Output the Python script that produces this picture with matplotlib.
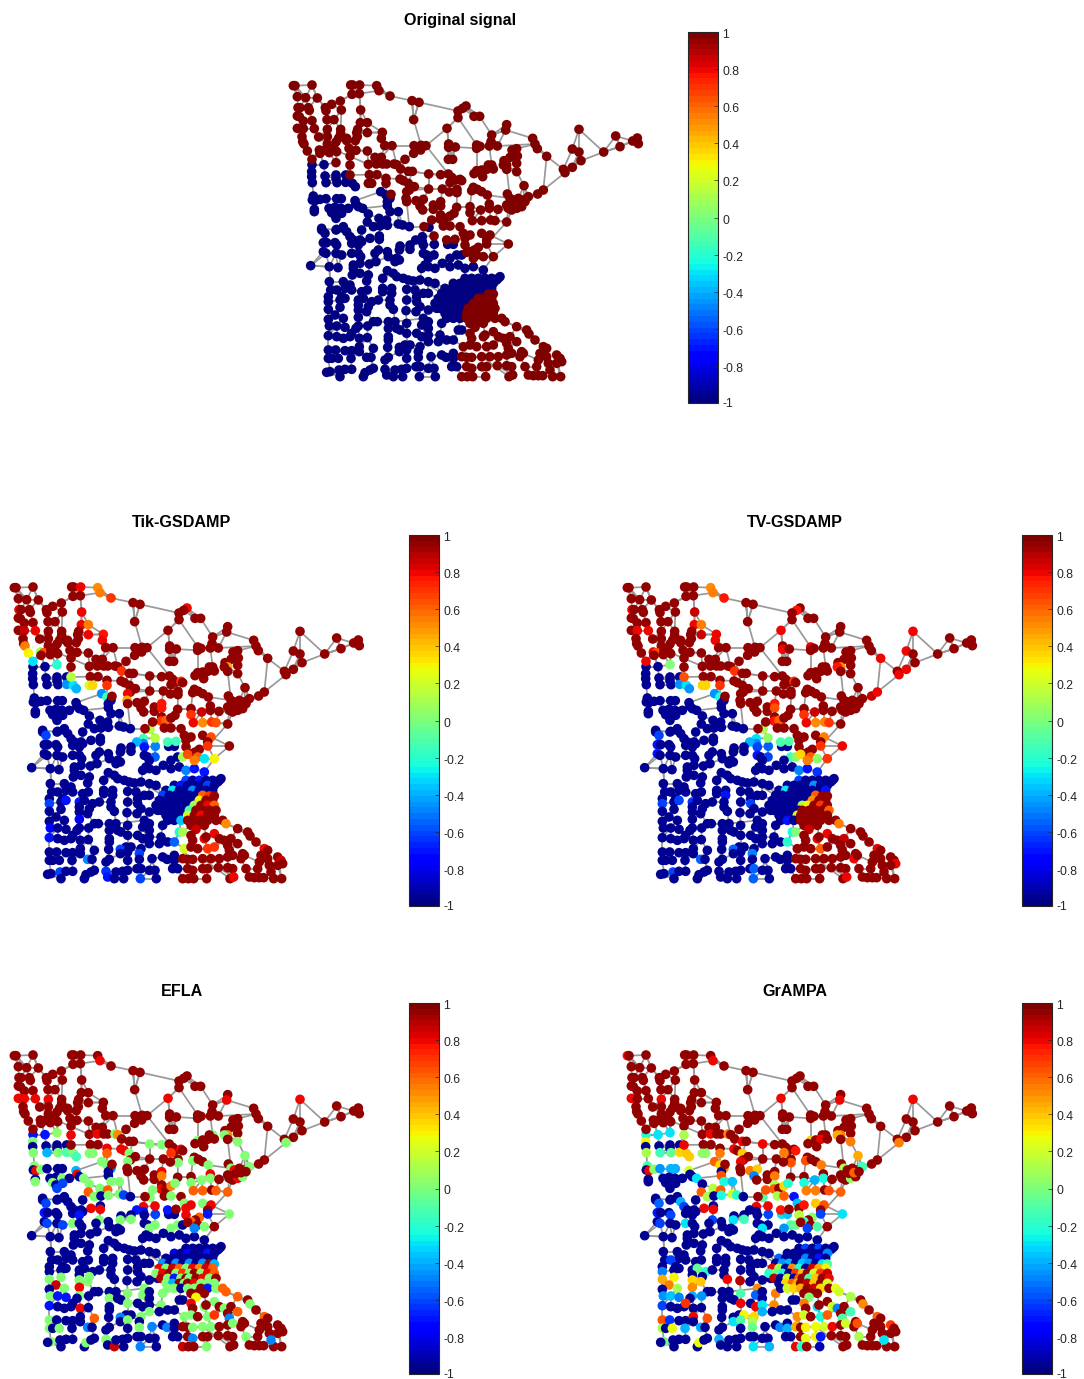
import numpy as np
import matplotlib
matplotlib.use("Agg")
import matplotlib.pyplot as plt
from matplotlib.cm import ScalarMappable
from matplotlib.colors import Normalize
from matplotlib.collections import LineCollection
from matplotlib.transforms import ScaledTranslation

plt.rcParams['font.family'] = ['Liberation Sans', 'DejaVu Sans']

# ---- graph nodes, in map grid units ------------------------------------
upper_red = [
 (40,47),(45,47),(96,45),(212,45),(218,45),(239,45),(290,47),(297,62),(216,73),(238,71),(330,78),
 (52,80),(77,83),(112,84),(181,93),(396,92),(417,97),(155,103),(54,113),(60,113),(85,113),(136,113),
 (558,108),(548,115),(534,123),(88,121),(184,120),(242,120),(138,122),(52,138),(58,140),(534,143),
 (582,139),(599,139),(70,153),(96,152),(141,149),(162,149),(401,149),(241,158),(262,158),
 (52,175),(70,176),(103,176),(142,178),(182,178),(233,178),(501,175),(680,164),(677,180),(897,178),
 (262,188),(307,187),(182,190),(230,188),(635,195),(66,200),(116,201),(142,200),(176,204),(200,205),
 (232,200),(304,205),(1007,198),(758,205),(68,215),(72,222),(142,222),(168,216),(200,212),(226,212),
 (633,215),(1072,204),(1058,213),(1075,221),(765,222),(314,227),(336,227),(402,227),(423,226),(438,227),
 (506,222),(506,232),(526,231),(590,225),(600,229),(590,235),(628,228),(652,228),(1020,230),(772,236),
 (82,243),(118,240),(128,242),(150,235),(165,240),(207,235),(228,241),(262,243),(422,240),(696,240),
 (710,236),(877,237),(897,246),(971,246),(120,250),(148,248),(170,245),(401,250),(800,259),(712,258),
 (96,268),(210,258),(285,262),(304,262),(375,268),(505,268),(518,268),(690,262),(672,272),(903,272),
 (168,278),(210,285),(265,283),(289,282),(308,282),(320,282),(342,282),(350,284),(635,285),(625,285),
 (680,285),(670,285),(710,280),(877,292),(362,297),(385,304),(397,304),(446,312),(482,314),(505,312),
 (590,302),(605,300),(620,298),(640,297),(582,311),(850,298),(855,308),(680,298),(710,305),(210,315),
 (268,314),(291,314),(318,325),(318,340),(360,327),(370,332),(385,340),(403,350),(388,360),(380,365),
 (446,357),(487,357),(531,358),(531,368),(508,366),(580,352),(575,362),(592,358),(605,365),(622,375),
 (265,340),(275,340),(682,372),(732,347),(515,322),(525,330),(540,328),(545,332),(510,338),(608,320),
 (333,373),(378,385),(380,395),(408,392),(430,388),(690,385),(700,390),(715,385),(730,390),(745,380),
 (773,372),(790,360),(420,408),(428,420),(460,405),(460,418),(482,395),(482,408),(530,412),(570,410),
 (570,428),(628,402),(628,415),(602,420),(654,418),(680,405),(685,415),(695,420),(710,415),(725,410),
 (705,400),(720,398),(735,395),(482,435),(480,447),(495,445),(510,438),(522,430),(577,452),(605,452),
 (632,450),(645,452),(680,456),(455,450),(432,470),(490,468),(510,468),(540,470),
]
upper_blue = [
 (96,284),(132,284),(95,305),(95,320),(135,318),(168,315),(168,325),(197,315),(97,338),(138,338),(171,338),
 (197,337),(217,340),(226,350),(302,365),(318,375),(330,385),(100,378),(97,390),(105,392),(120,388),
 (138,386),(170,386),(184,386),(225,392),(228,403),(322,395),(103,418),(103,425),(147,415),(165,412),
 (183,415),(205,415),(235,410),(248,415),(322,407),(155,428),(165,435),(185,430),(265,432),(330,425),
 (355,425),(168,445),(297,445),(320,450),(262,456),(280,470),(300,468),(322,466),(355,462),(368,465),
 (388,470),(447,472),(125,475),(170,478),(190,470),
]
lower_offset = (30, 450)
lower_red = [
 (432,48),(470,60),(495,58),(520,40),(525,55),(540,45),(575,40),(600,45),(590,60),(525,75),(565,82),
 (590,72),(655,72),(553,90),(540,95),(530,97),(560,105),(580,110),(610,110),(550,115),
 (595,222),(610,222),(565,235),(585,235),(605,235),(550,250),(570,250),(590,250),(610,250),
 (535,265),(555,265),(575,265),(595,265),(615,265),(530,280),(550,280),(570,280),(590,280),(610,280),
 (530,295),(550,295),(570,295),(590,295),(615,295),(635,295),(540,310),(560,310),(580,310),(645,305),
 (555,322),(540,340),(545,355),(580,350),(610,335),(625,350),(640,355),(660,350),(680,320),(710,330),
 (717,342),(735,360),(585,345),(520,380),(540,375),(560,380),(590,380),(610,375),(650,370),(655,385),
 (680,365),(695,395),(760,380),(770,385),(515,410),(530,412),(545,412),(575,410),(600,410),(625,410),
 (650,405),(665,400),(690,410),(700,400),(750,400),(770,410),(745,420),(800,405),(810,415),(815,425),
 (775,430),(800,430),(530,440),(545,445),(575,440),(590,440),(622,437),(650,437),(665,440),(705,440),
 (740,440),(515,470),(532,470),(548,470),(587,470),(657,470),(668,465),(715,465),(730,467),(745,467),
 (758,467),(788,470),(812,470),(780,450),
]
lower_blue = [
 (95,30),(105,40),(138,30),(160,25),(170,35),(215,30),(180,50),(190,60),(210,60),(240,55),(268,48),(268,58),
 (397,50),(397,65),(377,60),(100,68),(110,68),(135,68),(140,75),(185,70),(215,65),(205,75),(330,78),(360,75),
 (360,88),(328,90),(400,75),(433,73),(473,73),(490,73),(265,90),(255,100),(292,95),(100,95),(108,100),
 (138,100),(155,105),(185,100),(205,100),(212,110),(295,110),(320,115),(400,100),(410,105),(432,105),(415,115),
 (500,105),(515,105),(480,115),(62,137),(118,140),(144,143),(190,135),(210,130),(238,132),(258,125),(315,125),
 (328,120),(190,145),(405,135),(395,145),(415,140),(435,145),(457,130),(480,140),(505,135),(525,145),(550,140),
 (580,150),(187,165),(210,160),(235,165),(292,152),(310,160),(320,170),(340,175),(355,180),(370,183),(278,175),
 (230,183),(118,185),(160,185),(390,180),(415,185),(435,190),(630,170),(620,180),(180,195),(165,205),(122,210),
 (140,210),(185,210),(215,215),(232,210),(278,205),(305,205),(278,215),(350,208),(375,210),(400,220),(415,220),
 (305,220),(155,230),(115,230),(115,245),(150,240),(165,235),(205,240),(220,235),(245,245),(265,240),(300,240),
 (350,240),(380,230),(380,245),(205,255),(235,260),(300,255),(390,260),(115,268),(150,262),(205,270),(230,275),
 (310,268),(348,272),(378,275),(135,285),(160,295),(115,298),(205,292),(250,305),(262,305),(400,295),(415,270),
 (440,265),(118,318),(140,318),(165,322),(205,318),(198,325),(233,318),(295,305),(315,305),(350,310),(295,325),
 (320,325),(330,330),(395,315),(415,305),(415,325),(455,310),(505,330),(515,330),(115,347),(140,350),(160,355),
 (180,350),(185,340),(208,355),(232,353),(295,350),(295,360),(350,340),(380,340),(395,350),(415,345),(415,365),
 (450,345),(445,365),(470,360),(490,360),(345,375),(360,375),(115,390),(137,390),(165,392),(185,392),(208,380),
 (208,395),(250,385),(293,382),(328,382),(328,395),(350,390),(390,380),(385,395),(115,415),(125,415),(145,415),
 (183,415),(230,412),(243,412),(295,412),(285,420),(350,415),(385,412),(423,410),(455,405),(468,412),(490,400),
 (490,415),(120,455),(110,457),(147,450),(165,448),(185,448),(150,470),(220,470),(225,458),(240,450),(250,445),
 (285,448),(290,465),(310,470),(315,450),(335,448),(350,445),(338,470),(378,440),(390,440),(388,470),(415,445),
 (432,445),(436,470),(485,440),(500,440),
 (525,175),(545,175),(565,175),(585,175),(605,175),(625,175),(490,190),(510,190),(530,190),(550,190),(570,190),
 (590,190),(610,190),(465,205),(485,205),(505,205),(525,205),(545,205),(565,205),(585,205),(605,205),(455,220),
 (475,220),(495,220),(515,220),(535,220),(555,220),(575,220),(445,235),(465,235),(485,235),(505,235),(525,235),
 (545,235),(435,250),(455,250),(475,250),(495,250),(515,250),(535,250),(450,265),(470,265),(490,265),(510,265),
 (525,265),(465,280),(485,280),(505,280),(520,280),(470,295),(490,295),(510,295),
]

# long road links that a nearest-node rule would miss (grid units)
long_links = [
 ((45,47),(77,83)),((96,45),(112,84)),((112,84),(136,113)),((181,93),(216,73)),((238,71),(297,62)),
 ((297,62),(330,78)),((330,78),(396,92)),((417,97),(534,123)),((401,92),(401,149)),((401,149),(415,227)),
 ((239,71),(242,120)),((242,120),(241,158)),((184,120),(181,178)),((262,158),(307,187)),((262,188),(307,187)),
 ((534,143),(501,175)),((501,175),(438,227)),((501,175),(506,222)),((534,143),(590,225)),((534,123),(548,115)),
 ((599,139),(635,195)),((635,195),(630,215)),((635,195),(677,180)),((677,180),(758,205)),((897,178),(971,246)),
 ((971,246),(1020,230)),((1020,230),(1058,213)),((1007,198),(1020,230)),((971,246),(903,272)),((903,272),(855,298)),
 ((877,237),(850,298)),((897,246),(877,292)),((850,298),(800,259)),((800,259),(772,236)),((800,259),(790,360)),
 ((855,308),(790,360)),((790,360),(745,380)),((762,222),(710,236)),((758,225),(652,228)),((590,225),(590,302)),
 ((526,231),(590,232)),((438,227),(505,312)),((336,227),(402,227)),((314,227),(304,205)),((336,227),(350,284)),
 ((228,241),(262,243)),((210,285),(210,258)),((165,240),(265,283)),((118,240),(96,268)),((446,312),(446,357)),
 ((446,357),(388,360)),((482,314),(446,312)),((385,304),(446,312)),((628,228),(630,285)),((680,298),(690,385)),
 ((708,305),(732,347)),((732,347),(745,380)),((622,375),(690,385)),((225,392),(302,365)),((248,415),(322,407)),
 ((380,395),(388,470)),((210,315),(268,314)),((92,587),(148,590)),((92,587),(130,560)),((685,522),(620,522)),
 ((680,456),(620,522)),((505,312),(531,358)),((590,302),(582,311)),((487,357),(531,358)),((531,368),(530,412)),
 ((570,410),(575,362)),((628,402),(622,375)),((654,418),(690,420)),((96,284),(96,268)),((132,284),(118,240)),
 ((168,278),(168,245)),((140,590),(148,660)),((148,590),(148,660)),((415,640),(470,660)),((410,605),(480,600)),
 ((360,550),(410,530)),((280,565),(340,550)),((345,750),(420,750)),((475,790),(520,830)),((640,790),(660,815)),
 ((690,770),(745,795)),((745,795),(790,835)),((665,895),(700,920)),((840,855),(842,920)),((730,855),(775,880)),
 ((600,860),(670,920)),((785,880),(845,875)),((270,835),(250,862)),((350,800),(380,780)),((148,660),(148,700)),
 ((148,720),(148,770)),((150,800),(148,840)),((150,865),(150,905)),((240,720),(240,770)),((240,770),(240,810)),
 ((325,780),(325,835)),((380,770),(380,835)),((430,770),(440,835)),
]

# ---- values: every node starts from its group's level, then readings ----
original_north = 1
original_south = -1
recovered_red = 0.96
recovered_blue = -0.96

tik_shift = (-3, 24)
tik_readings = [
 (243,22,.8),(295,25,.5),(300,38,.55),(333,55,.7),(55,90,.8),(245,97,.8),(245,135,.8),(265,135,.55),(265,165,.8),
 (310,165,.75),(307,182,.8),(73,155,.85),(108,155,.8),(72,197,.55),(85,220,.3),(120,220,.1),(133,222,.65),(100,245,-.3),
 (170,252,.5),(170,262,-.2),(215,292,.15),(200,315,-.45),(220,315,-.3),(228,327,-.4),(275,318,.35),(265,318,.2),
 (320,320,.7),(305,343,-.45),(320,352,-.15),(380,360,.45),(383,340,.8),(370,275,.7),(543,300,.7),(565,95,.8),
 (680,255,.6),(690,260,.45),(485,372,.75),(485,390,.75),(485,420,.7),(505,418,.6),(575,405,.7),(605,398,.85),
 (610,432,.5),(640,428,.7),(650,430,.65),(580,430,.8),(460,440,.5),(450,450,.15),(465,475,.15),(430,475,-.15),
 (410,485,-.4),(432,485,-.5),(465,500,-.5),(505,487,-.15),(525,487,-.15),(430,500,-.7),(435,510,-.7),(465,525,-.55),
 (630,472,.65),(622,505,.7),(560,525,.65),(545,530,-.1),(555,545,.1),(590,545,.55),(598,535,.6),(615,540,-.3),
 (643,538,.3),(562,568,-.5),(585,570,-.7),(612,578,-.7),(143,470,-.6),(150,670,-.6),(200,655,-.7),(235,672,-.7),
 (236,720,-.8),(150,745,-.75),(148,775,-.7),(362,810,-.6),(265,840,-.5),(180,875,-.6),(420,820,-.6),(320,878,-.65),
 (325,897,-.7),(420,885,-.55),(420,897,-.6),(540,733,-.35),(548,758,.1),(535,760,-.25),(535,788,-.2),(540,800,.2),
 (515,795,-.55),(680,735,.5),(610,775,.8),(640,770,.8),(625,812,.7),(650,812,.7),(590,745,.85),(700,895,.8),
 (845,845,.85),(795,805,.8),(590,660,.3),(580,675,.1),(570,690,-.1),(560,710,.2),(600,650,.6),(620,650,.7),
 (640,680,.6),(620,680,.8),(600,700,.8),(515,635,-.3),(490,650,-.6),(560,595,-.6),(540,610,-.7),(600,605,-.7),
 (620,620,-.6),(580,640,-.5),
]
tv_shift = (0, 24)
tv_readings = [
 (290,25,.5),(298,40,.55),(330,55,.75),(52,90,.8),(243,97,.85),(262,135,.55),(242,135,.8),(262,165,.85),(305,165,.8),
 (305,182,.8),(70,155,.8),(103,155,.8),(128,222,.65),(118,215,.8),(95,245,.8),(168,255,.6),(168,263,0),(212,292,.65),
 (215,315,.1),(197,315,-.45),(217,325,-.3),(225,327,-.45),(265,318,.35),(275,318,.35),(318,320,.7),(303,343,-.45),
 (317,352,-.25),(368,275,.7),(540,300,.7),(558,95,.75),(500,152,.8),(505,205,.8),(590,205,.8),(670,255,.75),
 (685,260,.5),(893,155,.8),(877,213,.8),(877,268,.8),(798,237,.8),(850,285,.8),(790,337,.8),(773,350,.85),
 (685,498,.8),(640,538,.7),(612,542,.05),(620,505,.7),(625,478,.55),(605,432,.5),(645,430,.7),(630,428,.55),
 (575,430,.8),(570,405,.7),(602,398,.85),(483,372,.75),(483,390,.65),(502,418,.6),(483,422,.75),(455,440,.7),
 (447,450,.1),(462,477,.05),(427,475,-.3),(407,487,-.4),(428,485,-.5),(500,488,-.1),(522,487,-.1),(463,503,-.55),
 (430,505,-.6),(462,525,-.6),(430,515,-.7),(525,533,-.15),(545,530,0),(556,528,.35),(552,545,0),(590,535,.6),
 (583,548,.55),(560,568,-.5),(585,570,-.7),(612,578,-.65),(138,470,-.6),(130,492,-.7),(130,520,-.7),(198,650,-.6),
 (198,670,-.6),(145,670,-.6),(235,672,-.65),(330,645,-.7),(408,665,-.6),(360,810,-.55),(262,842,-.55),(178,875,-.6),
 (418,820,-.5),(415,880,-.55),(418,897,-.55),(530,732,-.7),(532,758,-.25),(545,758,0),(532,788,-.2),(610,775,.8),
 (585,745,.85),(675,735,.55),(625,813,.6),(725,843,.8),(840,848,.8),(695,897,.8),(790,808,.8),(640,770,.8),(680,770,.85),
 (570,680,.1),(590,655,.5),(610,650,.6),(580,668,.3),(555,700,.2),(620,680,.7),(640,690,.6),(515,638,-.3),
 (560,600,-.6),(600,610,-.45),(630,625,-.7),
]
efla_shift = (-3, 0)
efla_readings = [
 (300,62,.8),(55,176,.8),(70,176,.8),(105,178,.8),(145,180,.8),(505,176,.8),(680,178,.8),(900,180,.8),
 (100,287,-.7),(135,287,-.7),(172,285,.05),(212,287,.8),(290,283,.8),(95,307,0),(345,283,0),(360,285,.5),(450,312,0),
 (485,315,0),(592,302,0),(635,287,0),(675,280,0),(685,285,.5),(712,305,0),(858,310,0),(735,348,0),(100,340,0),
 (142,342,-.4),(175,340,0),(200,338,-.1),(220,340,0),(230,350,-.15),(270,342,0),(280,342,0),(322,342,.6),(320,330,.8),
 (365,330,.8),(372,335,.8),(390,342,0),(382,365,0),(545,330,.8),(510,338,.7),(535,365,0),(580,365,0),(628,378,0),
 (305,368,0),(320,378,0),(335,385,-.5),(105,380,0),(105,395,.8),(122,390,0),(228,390,-.4),(235,400,.8),(248,408,0),
 (265,432,0),(690,385,0),(730,405,0),(755,382,0),(710,420,.8),(710,390,.8),(300,445,0),(330,428,0),(360,428,0),
 (265,458,.6),(285,475,0),(323,452,.6),(330,470,0),(358,465,0),(107,425,0),(147,428,0),(165,428,0),(182,418,0),
 (197,435,-.6),(172,450,-.6),(485,395,.8),(485,410,.55),(510,440,.55),(520,438,.55),(490,450,.8),(530,430,0),
 (575,428,0),(605,422,0),(632,402,.8),(628,418,0),(650,455,.6),(608,455,.6),(580,455,.6),(683,458,.6),(460,462,0),
 (450,472,0),(372,468,-.6),(505,470,.6),(505,485,0),(545,495,0),(608,490,0),(575,490,.8),(632,498,.8),(275,507,.8),
 (300,507,.8),(430,500,.8),(465,500,.8),(410,510,-.7),(432,510,-.7),(465,525,-.6),(555,505,.8),(505,515,-.7),
 (557,525,.8),(690,522,0),(622,530,-.7),(595,535,.6),(575,545,.6),(142,495,-.6),(130,518,-.7),(395,535,0),(360,545,0),
 (300,540,0),(222,540,0),(240,525,-.7),(140,555,-.6),(180,555,-.6),(515,568,0),(530,565,0),(590,572,-.5),(615,568,0),
 (445,565,0),(463,565,0),
 (510,625,-.8),(570,640,-.75),(620,640,-.7),(490,668,-.45),(530,668,-.45),(570,668,-.45),(610,668,-.45),(640,668,-.4),
 (478,685,.8),(498,685,0),(518,685,.85),(538,685,.6),(558,685,0),(578,685,.8),(598,685,.5),(618,685,.85),(638,685,.6),
 (468,700,0),(488,700,.8),(508,700,.95),(528,700,0),(548,700,.7),(568,700,0),(583,700,.95),(603,700,0),(623,700,.8),(643,700,.6),
 (483,715,.9),(503,715,0),(523,715,-.7),(543,715,0),(563,715,.95),(578,715,0),(603,715,.8),(625,715,0),(645,715,.95),
 (498,730,0),(518,730,-.4),(538,730,.95),(555,730,0),(580,730,.8),(600,730,0),(620,730,0),(640,730,.95),(660,730,0),
 (510,745,0),(530,745,.85),(560,745,0),(580,745,0),(600,745,.95),(620,745,-.7),(645,745,0),(665,745,.6),(680,745,.6),
 (530,760,0),(565,760,.95),(590,772,.3),(620,762,.95),(650,760,0),
 (150,725,0),(185,718,0),(235,718,0),(260,715,0),(170,745,.85),(195,745,0),(235,745,.8),(260,735,0),(150,772,0),
 (175,770,-.7),(200,772,-.7),(240,770,0),(150,798,-.7),(325,778,0),(380,770,0),(382,797,0),(430,745,0),(430,770,0),
 (240,810,.8),(280,838,.6),(150,840,0),(265,865,-.5),(150,865,0),(175,865,0),(150,905,0),(362,835,-.5),(390,845,0),
 (425,830,0),(425,860,0),(458,860,-.5),(420,905,-.5),(570,905,-.5),(460,815,0),(490,795,0),(485,770,0),(575,795,.8),
 (610,800,0),(625,815,-.7),(645,795,0),(680,760,.6),(712,768,.6),(750,795,0),(725,815,.6),(665,820,0),(545,830,0),
 (580,832,0),(610,835,0),(635,835,.7),(685,840,-.5),(700,850,0),(790,830,.6),(745,892,0),(815,900,-.5),(622,922,0),
 (545,920,.85),(345,920,.85),(320,900,0),(260,900,0),(610,865,0),(635,865,0),(580,865,0),(505,865,-.5),
]
grampa_shift = (18, 0)
grampa_readings = [
 (22,52,.75),(275,62,.8),(485,176,.8),(660,178,.8),(880,180,.8),(38,178,.8),(123,180,.8),(270,283,.8),(325,283,.55),
 (78,287,-.25),(115,287,-.3),(150,287,-.3),(192,287,.1),(75,307,.3),(193,315,.8),(430,312,.8),(372,305,.8),(525,330,.75),
 (570,302,.4),(610,298,.8),(660,287,.55),(650,280,.45),(692,305,.55),(838,310,.55),(715,348,.45),(80,342,.1),(122,342,-.15),
 (152,342,-.05),(178,338,.35),(195,340,.4),(208,350,.4),(248,342,.05),(258,342,.05),(302,342,.55),(345,330,.8),(372,342,.4),
 (490,338,.55),(515,367,.65),(558,365,.65),(607,378,.55),(283,368,.6),(298,378,.35),(318,385,.5),(362,365,.8),(80,378,-.1),
 (85,395,.8),(102,390,.05),(122,385,-.45),(152,387,-.4),(165,387,-.4),(210,392,.2),(228,408,-.3),(238,420,-.3),(305,405,.65),
 (312,428,-.25),(338,425,-.35),(278,445,.15),(245,458,.6),(263,475,.1),(300,455,.6),(315,470,-.25),(338,467,.2),(350,467,-.2),
 (390,395,.55),(412,390,.4),(405,410,-.5),(465,408,.55),(435,450,.65),(465,438,.1),(495,440,.35),(510,428,-.2),(467,450,.6),
 (553,430,-.25),(585,422,-.4),(610,418,-.25),(558,455,.55),(587,457,.55),(627,455,.65),(662,458,.6),(695,420,.05),(668,390,.1),
 (735,380,-.15),(700,400,.6),(438,470,.2),(430,475,-.1),(480,470,.1),(490,475,0),(510,470,-.2),(523,468,-.7),(535,490,-.35),
 (485,488,.6),(588,490,.4),(555,505,.75),(252,507,.8),(280,507,.8),(610,497,.65),(408,498,.8),(445,500,.8),(485,503,.75),
 (485,525,-.3),(535,525,.15),(505,525,-.35),(668,523,-.3),(575,535,.05),(600,525,-.6),(460,520,-.6),(190,490,-.4),(205,495,-.6),
 (120,493,-.55),(205,537,-.3),(370,538,-.15),(338,540,-.3),(278,540,-.6),(115,520,-.7),(115,550,-.6),(155,525,-.6),(420,563,-.3),
 (490,567,-.45),(507,565,-.1),(535,568,-.05),(550,550,-.15),(595,568,-.1),(568,572,-.6),
 (448,672,-.3),(430,695,-.2),(127,695,-.5),(150,640,-.6),(232,698,-.05),(263,695,-.2),(127,715,.45),(150,725,-.7),(163,718,.3),
 (215,718,.35),(237,717,.4),(320,715,.8),(360,722,.9),(150,743,.55),(175,745,.1),(215,743,.55),(235,743,.5),(128,772,-.45),
 (153,768,-.35),(178,772,-.5),(215,772,-.4),(245,770,-.45),(128,800,-.6),(195,790,.7),(362,770,-.1),(362,795,.8),(405,750,.5),
 (410,775,-.55),(465,770,.55),(460,790,.5),(435,795,-.3),(410,800,.8),(125,842,.65),(147,845,-.65),(260,838,.65),(220,825,.8),
 (130,865,.1),(155,865,.25),(195,867,-.4),(245,865,-.4),(342,850,-.3),(368,825,.3),(370,845,-.1),(400,825,.35),(405,840,.1),
 (400,865,-.05),(440,815,-.4),(128,907,-.05),(235,908,.25),(300,900,-.4),(398,905,-.3),(448,922,-.4),
 (480,640,-.7),(560,625,-.6),(600,620,-.6),(620,640,-.5),(630,625,-.45),(470,660,-.55),(550,660,-.5),(600,660,-.7),
 (480,675,-.45),(510,672,-.4),(540,672,-.35),(570,672,-.45),(600,672,-.3),(625,672,-.1),
 (455,685,.8),(480,685,.1),(510,685,.5),(540,685,-.2),(570,685,.85),(600,685,.45),(625,685,.3),
 (465,700,-.05),(490,700,-.25),(520,700,.7),(550,700,.4),(580,700,.2),(610,700,.7),(628,700,.85),
 (470,718,.9),(500,718,.2),(530,715,.6),(560,715,-.1),(590,715,.4),(620,715,.8),
 (490,738,.35),(510,735,.6),(530,730,.45),(560,730,.85),(590,730,.4),(615,730,.2),
 (500,750,.2),(520,755,.35),(550,745,.45),(580,745,.85),(610,745,.35),(640,750,.25),(660,755,.2),
 (570,770,0),(600,762,.95),(690,770,.1),
 (590,800,-.3),(555,795,.55),(625,800,.2),(650,795,-.5),(705,815,.1),(730,795,.5),(680,815,-.15),(660,835,.7),(590,833,-.25),
 (560,835,.2),(530,830,.5),(615,835,.6),(640,865,.8),(610,865,.2),(585,865,.25),(560,865,.3),(530,865,.45),(495,862,-.4),
 (480,865,-.5),(545,905,-.2),(570,895,.25),(590,895,.3),(600,900,-.7),(525,922,.8),(600,922,-.9),(725,895,.1),(795,905,-.3),
 (720,865,.65),(680,850,.2),(650,840,-.1),(770,830,.6),(815,860,.7),
]

panel_titles = ['Original signal', 'Tik-GSDAMP', 'TV-GSDAMP', 'EFLA', 'GrAMPA']
cbar_ticks = [-1, -.8, -.6, -.4, -.2, 0, .2, .4, .6, .8, 1]
cbar_labels = ['-1', '-0.8', '-0.6', '-0.4', '-0.2', '0', '0.2', '0.4', '0.6', '0.8', '1']

# ---- assemble ----------------------------------------------------------
W, H = 1084, 1379
ox, oy = lower_offset
blue_xy = upper_blue + [(x + ox, y + oy) for x, y in lower_blue]
red_xy = upper_red + [(x + ox, y + oy) for x, y in lower_red]
nodes = np.array(blue_xy + red_xy, float)
is_red = np.array([False] * len(blue_xy) + [True] * len(red_xy))

base_orig = np.where(is_red, original_north, original_south).astype(float)
base_rec = np.where(is_red, recovered_red, recovered_blue).astype(float)


def apply_readings(readings, shift):
    vals = base_rec.copy()
    for u, v, val in readings:
        d = np.hypot(nodes[:, 0] - (u + shift[0]), nodes[:, 1] - (v + shift[1]))
        i = int(np.argmin(d))
        if d[i] < 30:
            vals[i] = val
    return vals


def snapped(p):
    d = np.hypot(nodes[:, 0] - p[0], nodes[:, 1] - p[1])
    return tuple(nodes[int(np.argmin(d))])


segs = []
for i, p in enumerate(nodes):
    d = np.hypot(*(nodes - p).T)
    d[i] = 1e9
    for rank, j in enumerate(np.argsort(d)[:3]):
        if d[j] < (70 if rank < 2 else 55):
            segs.append([tuple(p), tuple(nodes[j])])
for a, b in long_links:
    segs.append([snapped(a), snapped(b)])

jet = plt.get_cmap('jet', 64)
norm = Normalize(-1, 1)
fig = plt.figure(figsize=(W / 100, H / 100), dpi=100)
label_drop = ScaledTranslation(0, -1.5 / 100, fig.dpi_scale_trans)


def panel(title, vals, gx, gy, tx, ty, bx, by):
    ax = fig.add_axes([gx / W, 1 - (gy + 320) / H, 370 / W, 320 / H])
    ax.set_xlim(0, 1110)
    ax.set_ylim(960, 0)
    ax.axis('off')
    ax.add_collection(LineCollection(segs, colors='#999999', linewidths=1.25, zorder=1))
    ax.scatter(nodes[:, 0], nodes[:, 1], c=vals, cmap=jet, norm=norm, s=48, linewidths=0, zorder=2, clip_on=False)
    fig.text(tx / W, 1 - (ty + 1) / H, title, ha='center', va='center', fontsize=11.6, fontweight='bold', color='black')
    cax = fig.add_axes([bx / W, 1 - (by + 371) / H, 30 / W, 371 / H])
    cb = fig.colorbar(ScalarMappable(norm=norm, cmap=jet), cax=cax)
    cb.set_ticks(cbar_ticks)
    cb.set_ticklabels(cbar_labels)
    cb.ax.tick_params(direction='in', length=3, width=0.5, color='#262626', labelsize=8.8, labelcolor='#262626', pad=3)
    for lab in cb.ax.get_yticklabels():
        if lab.get_text() != '-1':
            lab.set_transform(lab.get_transform() + label_drop)
    cb.outline.set_edgecolor('#262626')
    cb.outline.set_linewidth(0.8)


panel(panel_titles[0], base_orig, 280, 70, 460, 20, 688, 32)
panel(panel_titles[1], apply_readings(tik_readings, tik_shift), 1, 572, 182, 521, 409, 535)
panel(panel_titles[2], apply_readings(tv_readings, tv_shift), 614, 572, 795, 521, 1022, 535)
panel(panel_titles[3], apply_readings(efla_readings, efla_shift), 1, 1040, 182, 990, 409, 1003)
panel(panel_titles[4], apply_readings(grampa_readings, grampa_shift), 614, 1040, 795, 990, 1022, 1003)

fig.savefig('out.png', dpi=100, facecolor='white')
